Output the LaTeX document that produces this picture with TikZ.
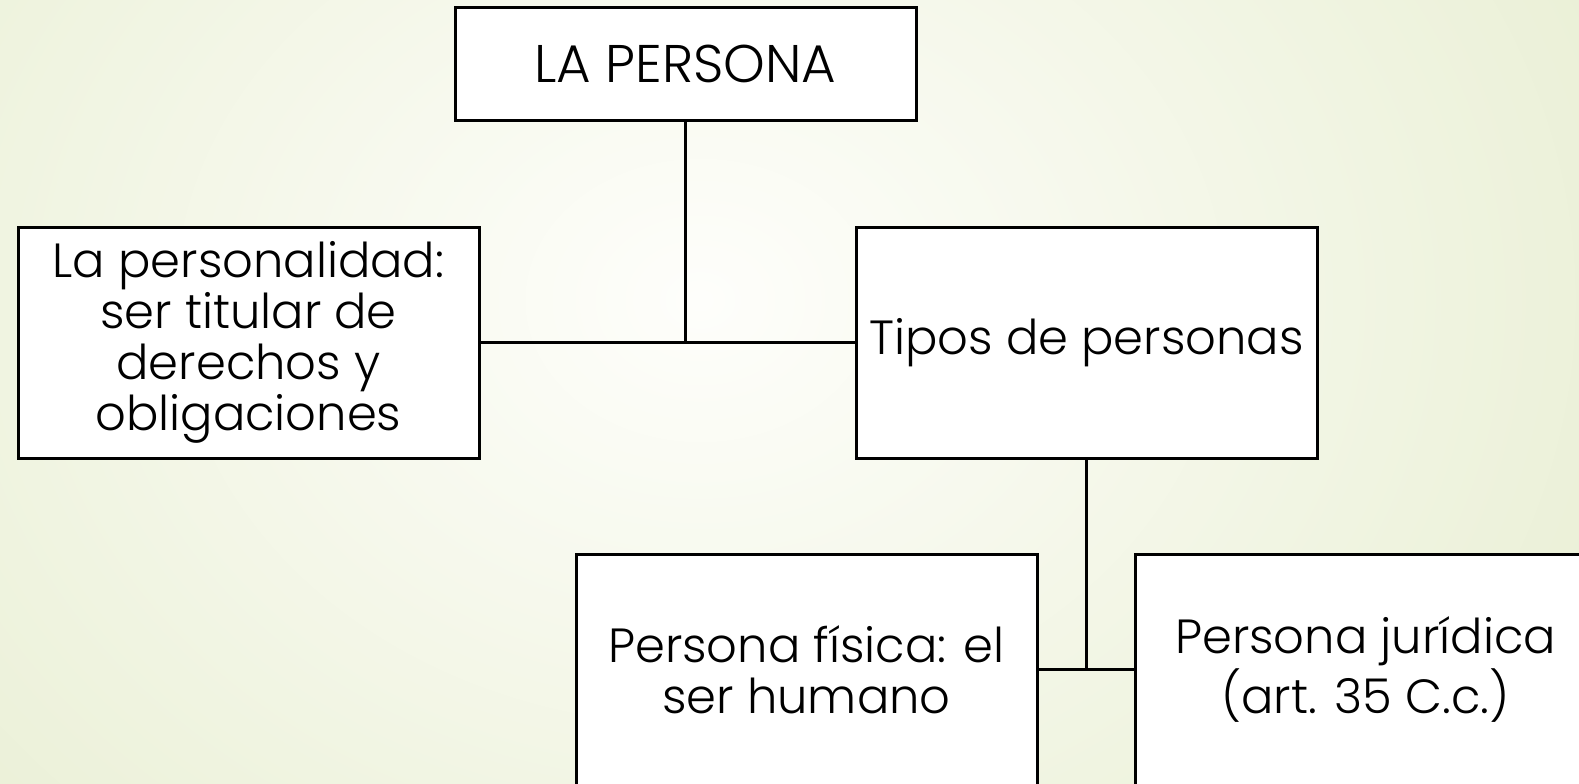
\documentclass[tikz,border=0pt]{standalone}
\usepackage{fontspec}
\setmainfont{Poppins}[UprightFont={* Light}]
\definecolor{bgout}{RGB}{233,239,212}
\definecolor{bgin}{RGB}{254,254,251}
\begin{document}
\begin{tikzpicture}[x=0.5pt,y=-0.5pt,
  box/.style={draw=black, line width=1.5pt, fill=white, rectangle, inner sep=0pt,
    align=center, font=\fontsize{24}{25.6}\selectfont},
  link/.style={draw=black, line width=1.5pt}]
\useasboundingbox (0,0) rectangle (1579,783);
\clip (0,0) rectangle (1579,783);
\shade[inner color=bgin, outer color=bgout] (-350,-550) rectangle (1750,1150);
\node[box, minimum width=230.5pt, minimum height=56.5pt, font=\fontsize{26.5}{28}\selectfont] (top) at (685.5,64) {LA PERSONA};
\node[box, minimum width=230.5pt, minimum height=115.5pt] (left) at (248.5,342.5) {La personalidad:\\ser titular de\\derechos y\\obligaciones};
\node[box, minimum width=230.5pt, minimum height=115.5pt] (tipos) at (1086.5,342.5) {Tipos de personas};
\node[box, minimum width=230.5pt, minimum height=115.5pt] (fis) at (806.5,669.5) {Persona física: el\\ser humano};
\node[box, minimum width=230.5pt, minimum height=115.5pt] (jur) at (1365.5,669.5) {Persona jurídica\\(art. 35 C.c.)};
\coordinate (j1) at (top.south |- left.east);
\coordinate (j2) at (tipos.south |- fis.east);
\draw[link] (top.south) -- (j1);
\draw[link] (left.east) -- (tipos.west);
\draw[link] (tipos.south) -- (j2);
\draw[link] (fis.east) -- (jur.west);
\end{tikzpicture}
\end{document}
